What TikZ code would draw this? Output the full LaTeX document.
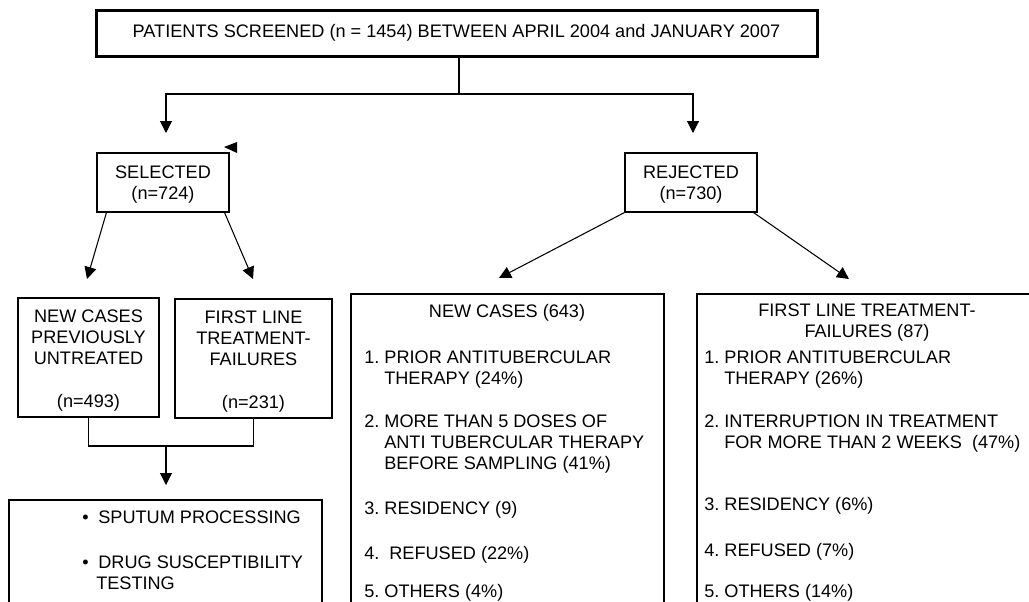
\documentclass[tikz,border=0pt]{standalone}
\usepackage{fontspec}
\setmainfont{Liberation Sans}
\usepackage{tikz}
\usetikzlibrary{arrows.meta,calc,positioning,fit}

\begin{document}
\begin{tikzpicture}[x=0.75pt, y=-0.75pt, arrow/.style = {line width=0.8pt,-{Triangle[length=9pt,width=9pt]}}]
		\tikzset{box/.style={draw,rectangle,inner sep=0pt,line width=0.8pt,align=center,font=\fontsize{13.6}{15.75}\selectfont\frenchspacing},
			title/.style={inner sep=0pt,align=center,font=\fontsize{13.6}{15.75}\selectfont\frenchspacing},
			txt/.style={inner sep=0pt,align=left,anchor=north west,font=\fontsize{13.6}{15.75}\selectfont\frenchspacing}}

		\useasboundingbox (0,0) rectangle (1029,601);
		\clip (0,0) rectangle (1029,601);

		% Screening
		\node[box, minimum width=540.75pt, minimum height=34.5pt, line width=2.25pt] (screen) at (456.5,33) {PATIENTS SCREENED (n = 1454) BETWEEN APRIL 2004 and JANUARY 2007};

		% Selected / rejected
		\node[box, minimum width=99pt, minimum height=44.25pt] (sel) at (163,182.5) {\rule{0pt}{12pt}SELECTED\\(n=724)};

		\node[box, minimum width=99pt, minimum height=44.25pt] (rej) at (691,182.5) {\rule{0pt}{12pt}REJECTED\\(n=730)};

		% Selected groups
		\node[box, minimum width=105.75pt, minimum height=89.25pt] (newcase) at (88.5,357.5) {\rule{0pt}{14pt}NEW CASES\\PREVIOUSLY\\UNTREATED\\[16.25pt](n=493)};

		\node[box, minimum width=117.75pt, minimum height=89.25pt] (failure) at (253.5,358.5) {\rule{0pt}{14pt}FIRST LINE\\TREATMENT-\\FAILURES\\[17pt](n=231)};

		% Lab work
		\node[box, fit={(9,500) (322,640)}] (lab) {};

		\node[txt] (sputum) at (82,511) {\textbullet\hspace{7.3pt}SPUTUM PROCESSING};

		\node[txt] (dst) at (82,556) {\textbullet\hspace{7.3pt}DRUG SUSCEPTIBILITY\\\hspace*{10.5pt}TESTING};

		% Rejected groups
		\node[box, fit={(351,294) (664,640)}] (rejnew) {};

		\node[box, fit={(697,294) (1060,640)}] (rejfail) {};

		\node[title] (rejnewtitle) at (507,313) {NEW CASES (643)};

		\node[title] (rejfailtitle) at (867,323) {FIRST LINE TREATMENT-\\FAILURES (87)};

		% Reasons, new cases
		\node[txt] (newprior) at (364,351) {1. PRIOR ANTITUBERCULAR\\\hspace*{15pt}THERAPY (24\%)};
		\node[txt] (newdoses) at (364,415) {2. MORE THAN 5 DOSES OF\\\hspace*{15pt}ANTI TUBERCULAR THERAPY\\\hspace*{15pt}BEFORE SAMPLING (41\%)};
		\node[txt] (newres) at (364,501) {3. RESIDENCY (9)};
		\node[txt] (newref) at (364,546) {4.\hspace{3.7pt} REFUSED (22\%)};
		\node[txt] (newoth) at (364,584) {5. OTHERS (4\%)};

		% Reasons, treatment failures
		\node[txt] (failprior) at (704,351) {1. PRIOR ANTITUBERCULAR\\\hspace*{15pt}THERAPY (26\%)};
		\node[txt] (failint) at (704,415) {2. INTERRUPTION IN TREATMENT\\\hspace*{15pt}FOR MORE THAN 2 WEEKS\hspace{3.7pt} (47\%)};
		\node[txt] (failres) at (704,497) {3. RESIDENCY (6\%)};
		\node[txt] (failref) at (704,543) {4. REFUSED (7\%)};
		\node[txt] (failoth) at (704,584) {5. OTHERS (14\%)};

		% Arrow ends
		\coordinate (split) at (459,94);
		\coordinate (selTip) at (166,133);
		\coordinate (rejTip) at (693,133);
		\coordinate (newTip) at (87,279);
		\coordinate (failTip) at (253,279);
		\coordinate (rejNewTip) at (499,278);
		\coordinate (rejFailTip) at (849,279);
		\coordinate (merge) at (166,446);
		\coordinate (labTip) at (166,485);

		% Arrows
		\draw [line width=0.8pt] (split |- screen.south) -- (split);
		\draw [arrow] (split) -| (selTip);
		\draw [arrow] (split) -| (rejTip);
		\draw [arrow] ($(sel.south west)+(10,0)$) -- (newTip);
		\draw [arrow] ($(sel.south east)+(-5,0)$) -- (failTip);
		\draw [arrow] (rej.south west) -- (rejNewTip);
		\draw [arrow] ($(rej.south east)+(-4,0)$) -- (rejFailTip);
		\draw [line width=0.8pt] (newcase.south) |- (merge) -| (failure.south);
		\draw [arrow] (merge) -- (labTip);
		\fill (224,147) -- (237,142) -- (237,153) -- cycle;

	\end{tikzpicture}
\end{document}
